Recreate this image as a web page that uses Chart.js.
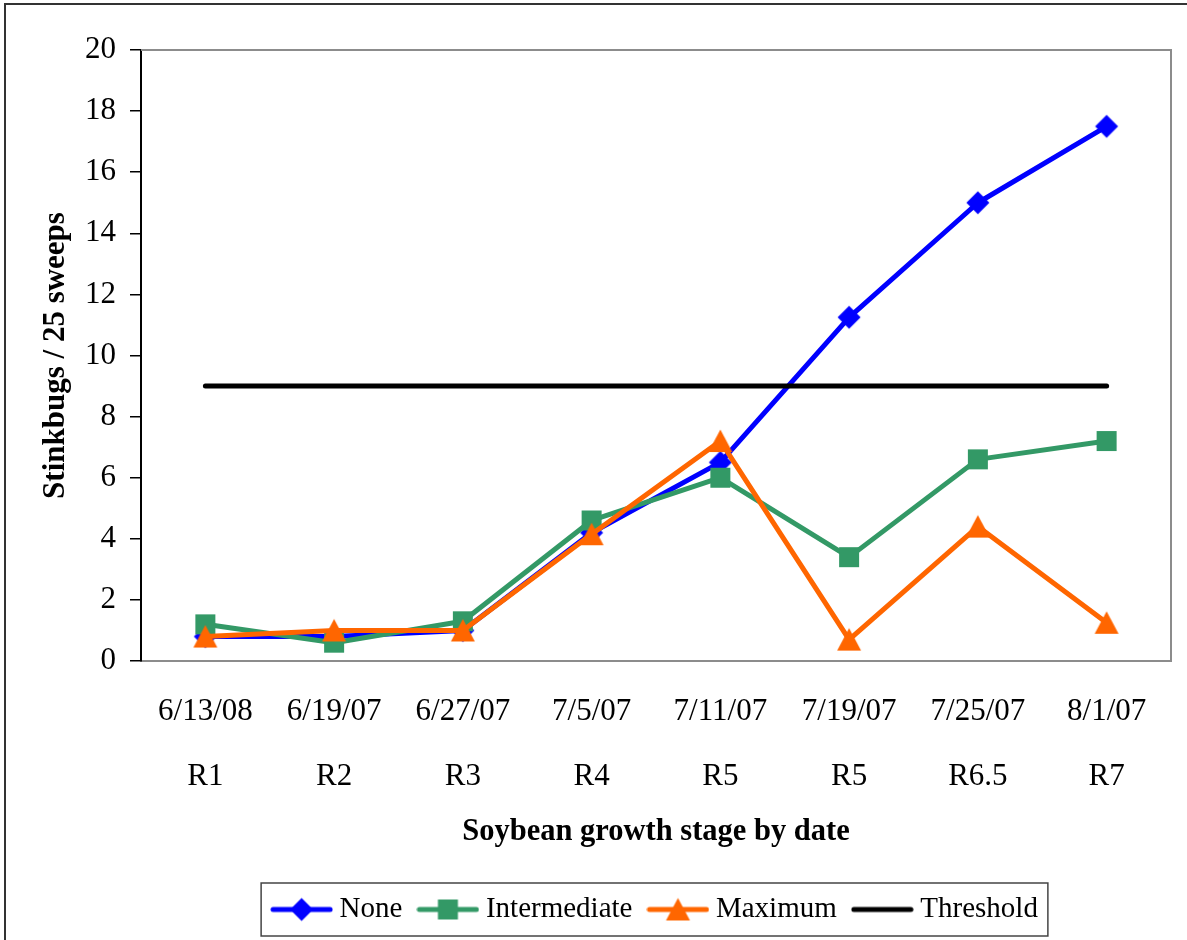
<!DOCTYPE html>
<html>
<head>
<meta charset="utf-8">
<title>Stinkbugs per 25 sweeps by soybean growth stage</title>
<script src="https://cdn.jsdelivr.net/npm/chart.js@4/dist/chart.umd.min.js"></script>
<style>
  html, body { margin: 0; padding: 0; background: #fff; overflow: hidden; }
  #wrap { position: relative; width: 1187px; height: 940px; }
</style>
</head>
<body>
<div id="wrap"><canvas id="c" width="1187" height="940"></canvas></div>
<script>
// Sampling dates and the soybean growth stage on each date
const dates  = ['6/13/08', '6/19/07', '6/27/07', '7/5/07', '7/11/07', '7/19/07', '7/25/07', '8/1/07'];
const stages = ['R1', 'R2', 'R3', 'R4', 'R5', 'R5', 'R6.5', 'R7'];

// Stinkbugs per 25 sweeps for each management level
const noneCounts         = [0.8, 0.8, 1.0, 4.2, 6.5, 11.25, 15.0, 17.5];
const intermediateCounts = [1.2, 0.6, 1.3, 4.6, 6.0, 3.4, 6.6, 7.2];
const maximumCounts      = [0.8, 1.0, 1.0, 4.15, 7.2, 0.7, 4.4, 1.25];
const thresholdCounts    = [9, 9, 9, 9, 9, 9, 9, 9];

// Y axis range and tick spacing
const yMin = 0, yMax = 20, yStep = 2;

const FONT = '"Liberation Serif", "Times New Roman", serif';
const BLUE = '#0000ff', GREEN = '#339966', ORANGE = '#ff6600', BLACK = '#000000';

// Marker shapes centred on their bounding box
function markerPath(g, style, x, y) {
  g.beginPath();
  if (style === 'diamond') {
    const r = 11.5;
    g.moveTo(x - r, y); g.lineTo(x, y - r); g.lineTo(x + r, y); g.lineTo(x, y + r);
  } else if (style === 'square') {
    const s = 10;
    g.rect(x - s, y - s, 2 * s, 2 * s);
  } else if (style === 'triangle') {
    g.moveTo(x, y - 11.5); g.lineTo(x + 12, y + 11); g.lineTo(x - 12, y + 11);
  }
  g.closePath();
}
function markerImage(color, style) {
  const cv = document.createElement('canvas');
  cv.width = 26; cv.height = 26;
  const g = cv.getContext('2d');
  g.fillStyle = color;
  markerPath(g, style, 13, 13);
  g.fill();
  return cv;
}
// Line + marker swatches for the legend
function legendSwatch(color, style) {
  const cv = document.createElement('canvas');
  cv.width = 63; cv.height = 30;
  const g = cv.getContext('2d');
  g.strokeStyle = color; g.lineWidth = 5; g.lineCap = 'round';
  g.beginPath(); g.moveTo(3, 15); g.lineTo(60, 15); g.stroke();
  if (style) {
    g.fillStyle = color;
    markerPath(g, style, 31.5, 15);
    g.fill();
  }
  return cv;
}
const markers = {
  none: markerImage(BLUE, 'diamond'),
  intermediate: markerImage(GREEN, 'square'),
  maximum: markerImage(ORANGE, 'triangle')
};
const swatches = [
  legendSwatch(BLUE, 'diamond'),
  legendSwatch(GREEN, 'square'),
  legendSwatch(ORANGE, 'triangle'),
  legendSwatch(BLACK, null)
];

// Page background, outer frame, plot-area frame and legend box
const framePlugin = {
  id: 'framePlugin',
  afterLayout(chart) {
    // legend row sits right of centre
    const lg = chart.legend;
    if (lg) { lg.left += 71; lg.right += 71; }
  },
  beforeDraw(chart) {
    const ctx = chart.ctx;
    ctx.save();
    ctx.fillStyle = '#ffffff';
    ctx.fillRect(0, 0, chart.width, chart.height);
    ctx.restore();
  },
  beforeDatasetsDraw(chart) {
    const {ctx, chartArea: a} = chart;
    ctx.save();
    ctx.strokeStyle = '#8c8c8c';
    ctx.lineWidth = 2;
    ctx.beginPath();
    ctx.moveTo(a.left, a.top);
    ctx.lineTo(a.right, a.top);
    ctx.lineTo(a.right, a.bottom);
    ctx.stroke();
    ctx.restore();
  },
  afterDraw(chart) {
    const ctx = chart.ctx;
    ctx.save();
    ctx.strokeStyle = '#333333';
    ctx.lineWidth = 2;
    ctx.strokeRect(5, 4, chart.width + 20, chart.height + 20);
    const boxes = chart.legend.legendHitBoxes;
    if (boxes && boxes.length) {
      const first = boxes[0], last = boxes[boxes.length - 1];
      const cy = first.top + first.height / 2;
      const left = first.left - 17;
      const right = last.left + last.width + 10;
      ctx.strokeStyle = '#444444';
      ctx.lineWidth = 1.5;
      ctx.strokeRect(left, cy - 26.5, right - left, 53);
    }
    ctx.restore();
  }
};

const lineStyle = {
  borderWidth: 5,
  borderCapStyle: 'round',
  borderJoinStyle: 'round',
  tension: 0,
  fill: false
};

new Chart(document.getElementById('c'), {
  type: 'line',
  data: {
    labels: dates,
    datasets: [
      Object.assign({
        label: 'None', data: noneCounts, order: 4,
        borderColor: BLUE, backgroundColor: BLUE,
        pointStyle: markers.none, pointRadius: 11
      }, lineStyle),
      Object.assign({
        label: 'Intermediate', data: intermediateCounts, order: 3,
        borderColor: GREEN, backgroundColor: GREEN,
        pointStyle: markers.intermediate, pointRadius: 11
      }, lineStyle),
      Object.assign({
        label: 'Maximum', data: maximumCounts, order: 2,
        borderColor: ORANGE, backgroundColor: ORANGE,
        pointStyle: markers.maximum, pointRadius: 11
      }, lineStyle),
      Object.assign({
        label: 'Threshold', data: thresholdCounts, order: 1,
        borderColor: BLACK, backgroundColor: BLACK,
        pointRadius: 0
      }, lineStyle)
    ]
  },
  options: {
    responsive: false,
    animation: false,
    devicePixelRatio: 1,
    layout: { padding: { top: 50, right: 13, bottom: 6, left: 0 } },
    plugins: {
      tooltip: { enabled: false },
      title: { display: false },
      legend: {
        display: true,
        position: 'bottom',
        align: 'center',
        labels: {
          usePointStyle: true,
          pointStyleWidth: 47,
          padding: 22,
          color: '#000',
          font: { family: FONT, size: 29 },
          sort: (a, b) => a.datasetIndex - b.datasetIndex,
          generateLabels(chart) {
            const items = Chart.defaults.plugins.legend.labels.generateLabels(chart);
            items.forEach(it => { it.pointStyle = swatches[it.datasetIndex]; });
            return items;
          }
        }
      }
    },
    scales: {
      x: {
        type: 'category',
        offset: true,
        grid: { display: false },
        border: { display: true, color: '#8c8c8c', width: 2 },
        ticks: {
          color: '#000',
          padding: 10,
          maxRotation: 0,
          autoSkip: false,
          font: { family: FONT, size: 31, lineHeight: 2.1 },
          callback: (v, i) => [dates[i], stages[i]]
        },
        title: {
          display: true,
          text: 'Soybean growth stage by date',
          color: '#000',
          font: { family: FONT, size: 30.5, weight: 'bold', lineHeight: 1.2 },
          padding: { top: 0, bottom: 23 }
        },
        afterFit(scale) { scale.height = 212; }
      },
      y: {
        min: yMin,
        max: yMax,
        grid: {
          display: true,
          drawOnChartArea: false,
          drawTicks: true,
          tickLength: 11,
          color: '#000',
          lineWidth: 1.5
        },
        border: { display: true, color: '#000', width: 2 },
        ticks: {
          stepSize: yStep,
          color: '#000',
          padding: 14,
          font: { family: FONT, size: 31 }
        },
        title: {
          display: true,
          text: 'Stinkbugs / 25 sweeps',
          color: '#000',
          font: { family: FONT, size: 31, weight: 'bold', lineHeight: 1.2 },
          padding: { top: 37, bottom: 0 }
        },
        afterFit(scale) { scale.width = 141; }
      }
    }
  },
  plugins: [framePlugin]
});
</script>
</body>
</html>
